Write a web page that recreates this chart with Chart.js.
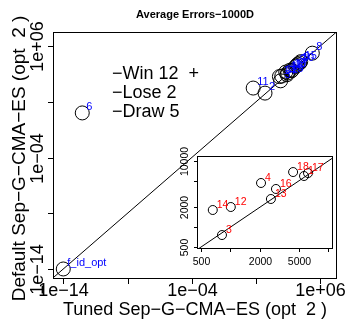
<!DOCTYPE html>
<html>
<head>
<meta charset="utf-8">
<script src="https://cdn.jsdelivr.net/npm/chart.js@4.4.1/dist/chart.umd.min.js"></script>
<style>
  html, body { margin: 0; padding: 0; background: #fff; }
  #wrap { position: relative; width: 346px; height: 320px; }
  #main { position: absolute; left: 0; top: 0; }
  #inset { position: absolute; left: 160px; top: 140px; }
</style>
</head>
<body>
<div id="wrap">
  <canvas id="main" width="346" height="320"></canvas>
  <canvas id="inset" width="186" height="165"></canvas>
</div>
<script>
// function ids and their average errors (x = tuned, y = default)
const funcNames = ['f_id_opt', '1', '2', '3', '4', '5', '6', '7', '8', '9',
  '10', '11', '12', '13', '14', '15', '16', '17', '18'];
const tunedErr = [1e-14, 5680, 50, 820, 2060, 12000, 3e-13, 15000, 2.4e5, 25000,
  18000, 6, 1010, 2600, 660, 30000, 2930, 6240, 4390];
const defaultErr = [1e-14, 5960, 60, 760, 4670, 15000, 1.0, 18000, 2.3e5, 30000,
  24000, 170, 2020, 2670, 1820, 40000, 3790, 6600, 6840];

// axis limits
const mainXLim = [1.585e-15, 2.0e7];
const mainYLim = [1.26e-15, 1.82e7];
const insetXLim = [455, 11250];
const insetYLim = [467, 11970];

// ticks
const mainTicks = [1e-14, 1e-9, 1e-4, 1e1, 1e6];
const mainTickLabels = ['1e\u221214', '', '1e\u221204', '', '1e+06'];
const insetTicks = [500, 1000, 2000, 5000, 10000];
const insetXLabels = ['500', '', '2000', '5000', ''];
const insetYLabels = ['500', '', '2000', '', '10000'];

// y = x reference line
const diagMain = [1e-16, 1e8];
const diagInset = [100, 1e5];

const chartTitle = 'Average Errors\u22121000D';
const xTitle = 'Tuned Sep\u2212G\u2212CMA\u2212ES (opt  2 )';
const yTitle = 'Default Sep\u2212G\u2212CMA\u2212ES (opt  2 )';
const tally = ['\u2212Win 12  +', '\u2212Lose 2', '\u2212Draw 5'];

const FONT = '"Liberation Sans", Arial, Helvetica, sans-serif';

// points that fall inside the zoom box
const insetIdx = funcNames.map((n, i) => i).filter(i =>
  tunedErr[i] >= insetXLim[0] && tunedErr[i] <= insetXLim[1] &&
  defaultErr[i] >= insetYLim[0] && defaultErr[i] <= insetYLim[1]);

function pointLabels(names, color, size, dx, dy) {
  return {
    id: 'pointLabels',
    afterDatasetsDraw(chart) {
      const ctx = chart.ctx;
      const meta = chart.getDatasetMeta(0);
      ctx.save();
      ctx.fillStyle = color;
      ctx.font = size + 'px ' + FONT;
      ctx.textAlign = 'left';
      ctx.textBaseline = 'alphabetic';
      meta.data.forEach((el, i) => {
        ctx.fillText(names[i], el.x + dx, el.y + dy);
      });
      ctx.restore();
    }
  };
}

const mainDecor = {
  id: 'mainDecor',
  afterDraw(chart) {
    const ctx = chart.ctx, a = chart.chartArea;
    const sx = chart.scales.x, sy = chart.scales.y;
    ctx.save();
    ctx.strokeStyle = '#000';
    ctx.lineWidth = 1;
    ctx.strokeRect(a.left + 0.5, a.top + 0.5, a.right - a.left - 1, a.bottom - a.top - 1);

    ctx.fillStyle = '#000';
    ctx.font = '18px ' + FONT;
    ctx.textAlign = 'center';
    ctx.textBaseline = 'alphabetic';
    mainTicks.forEach((v, i) => {
      const px = Math.round(sx.getPixelForValue(v)) + 0.5;
      ctx.beginPath();
      ctx.moveTo(px, a.bottom);
      ctx.lineTo(px, a.bottom + 5);
      ctx.stroke();
      if (mainTickLabels[i]) ctx.fillText(mainTickLabels[i], px, 296);

      const py = Math.round(sy.getPixelForValue(v)) + 0.5;
      ctx.beginPath();
      ctx.moveTo(a.left, py);
      ctx.lineTo(a.left - 5, py);
      ctx.stroke();
      if (mainTickLabels[i]) {
        ctx.save();
        ctx.translate(43, py);
        ctx.rotate(-Math.PI / 2);
        ctx.fillText(mainTickLabels[i], 0, 0);
        ctx.restore();
      }
    });

    const cx = (a.left + a.right) / 2, cy = (a.top + a.bottom) / 2;
    ctx.fillText(xTitle, cx, 315);
    ctx.save();
    ctx.font = '19px ' + FONT;
    ctx.translate(25, cy + 3);
    ctx.rotate(-Math.PI / 2);
    ctx.fillText(yTitle, 0, 0);
    ctx.restore();

    ctx.font = 'bold 11px ' + FONT;
    ctx.fillText(chartTitle, cx, 18);

    ctx.font = '18px ' + FONT;
    ctx.textAlign = 'left';
    tally.forEach((t, i) => ctx.fillText(t, 112, 79 + i * 19));
    ctx.restore();
  }
};

const insetDecor = {
  id: 'insetDecor',
  beforeDatasetsDraw(chart) {
    const ctx = chart.ctx, a = chart.chartArea;
    ctx.save();
    ctx.fillStyle = '#fff';
    ctx.fillRect(a.left, a.top, a.right - a.left, a.bottom - a.top);
    ctx.restore();
  },
  afterDraw(chart) {
    const ctx = chart.ctx, a = chart.chartArea;
    const sx = chart.scales.x, sy = chart.scales.y;
    ctx.save();
    ctx.strokeStyle = '#000';
    ctx.lineWidth = 1;
    ctx.strokeRect(a.left + 0.5, a.top + 0.5, a.right - a.left - 1, a.bottom - a.top - 1);
    ctx.fillStyle = '#000';
    ctx.font = '10.5px ' + FONT;
    ctx.textAlign = 'center';
    insetTicks.forEach((v, i) => {
      const px = Math.round(sx.getPixelForValue(v)) + 0.5;
      ctx.beginPath();
      ctx.moveTo(px, a.bottom);
      ctx.lineTo(px, a.bottom + 3);
      ctx.stroke();
      if (insetXLabels[i]) ctx.fillText(insetXLabels[i], px, a.bottom + 16);

      const py = Math.round(sy.getPixelForValue(v)) + 0.5;
      ctx.beginPath();
      ctx.moveTo(a.left, py);
      ctx.lineTo(a.left - 3, py);
      ctx.stroke();
      if (insetYLabels[i]) {
        ctx.save();
        ctx.translate(a.left - 9, py);
        ctx.rotate(-Math.PI / 2);
        ctx.fillText(insetYLabels[i], 0, 0);
        ctx.restore();
      }
    });
    ctx.restore();
  }
};

const logAxis = (lim) => ({
  type: 'logarithmic', min: lim[0], max: lim[1], bounds: 'data', display: false
});

new Chart(document.getElementById('main'), {
  type: 'scatter',
  data: {
    datasets: [
      {
        data: funcNames.map((n, i) => ({ x: tunedErr[i], y: defaultErr[i] })),
        pointRadius: 7,
        pointBorderColor: '#000',
        pointBackgroundColor: 'rgba(0,0,0,0)',
        pointBorderWidth: 1
      },
      {
        data: diagMain.map(v => ({ x: v, y: v })),
        showLine: true,
        borderColor: '#000',
        borderWidth: 1,
        pointRadius: 0
      }
    ]
  },
  options: {
    responsive: false,
    animation: false,
    devicePixelRatio: 1,
    events: [],
    layout: { padding: { left: 53, right: 9, top: 32, bottom: 41 } },
    scales: { x: logAxis(mainXLim), y: logAxis(mainYLim) },
    plugins: { legend: { display: false }, tooltip: { enabled: false } }
  },
  plugins: [mainDecor, pointLabels(funcNames, '#0000ff', 11, 4, -3)]
});

new Chart(document.getElementById('inset'), {
  type: 'scatter',
  data: {
    datasets: [
      {
        data: insetIdx.map(i => ({ x: tunedErr[i], y: defaultErr[i] })),
        pointRadius: 4.5,
        pointBorderColor: '#000',
        pointBackgroundColor: 'rgba(0,0,0,0)',
        pointBorderWidth: 1
      },
      {
        data: diagInset.map(v => ({ x: v, y: v })),
        showLine: true,
        borderColor: '#000',
        borderWidth: 1,
        pointRadius: 0
      }
    ]
  },
  options: {
    responsive: false,
    animation: false,
    devicePixelRatio: 1,
    events: [],
    layout: { padding: { left: 37, right: 13, top: 16, bottom: 56 } },
    scales: { x: logAxis(insetXLim), y: logAxis(insetYLim) },
    plugins: { legend: { display: false }, tooltip: { enabled: false } }
  },
  plugins: [insetDecor, pointLabels(insetIdx.map(i => funcNames[i]), '#ff0000', 10.5, 4, -2)]
});
</script>
</body>
</html>
